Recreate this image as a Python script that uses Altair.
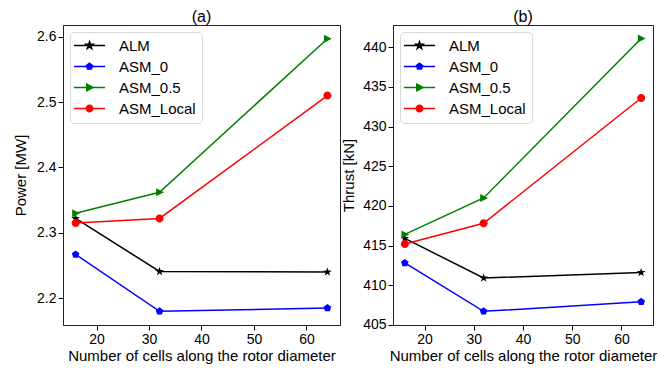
import math
import altair as alt
import pandas as pd

cells = [16, 32, 64]
series = ["ALM", "ASM_0", "ASM_0.5", "ASM_Local"]
colors = ["#000000", "#0000ff", "#008000", "#ff0000"]

power_alm = [2.322, 2.241, 2.240]
power_asm0 = [2.267, 2.180, 2.185]
power_asm05 = [2.330, 2.362, 2.597]
power_local = [2.315, 2.322, 2.510]

thrust_alm = [415.9, 410.9, 411.6]
thrust_asm0 = [412.8, 406.7, 407.9]
thrust_asm05 = [416.4, 421.0, 441.1]
thrust_local = [415.2, 417.8, 433.6]

power_ticks = [2.2, 2.3, 2.4, 2.5, 2.6]
thrust_ticks = [405, 410, 415, 420, 425, 430, 435, 440]
x_ticks = [20, 30, 40, 50, 60]

FONT = "Liberation Sans"


def poly(pts):
    return "M" + "L".join(f"{x:.3f},{y:.3f}" for x, y in pts) + "Z"


star = poly([((1.15 if i % 2 == 0 else 0.45) * math.cos(-math.pi / 2 + i * math.pi / 5),
              (1.15 if i % 2 == 0 else 0.45) * math.sin(-math.pi / 2 + i * math.pi / 5))
             for i in range(10)])
pent = poly([(math.cos(-math.pi / 2 + i * 2 * math.pi / 5),
              math.sin(-math.pi / 2 + i * 2 * math.pi / 5)) for i in range(5)])
tri = poly([(-0.85, -1.0), (1.1, 0.0), (-0.85, 1.0)])
circ = "M1,0A1,1 0 1,1 -1,0A1,1 0 1,1 1,0Z"
marker_paths = [star, pent, tri, circ]
legend_paths = ["M-4.8,0L4.8,0" + p for p in marker_paths]


def long_df(vals):
    rows = []
    for s, v in zip(series, vals):
        for c, y in zip(cells, v):
            rows.append({"cells": c, "series": s, "value": y})
    return pd.DataFrame(rows)


def panel(df, ydomain, yticks, yfmt, ytitle, title, width, ytitle_pad):
    x = alt.X("cells:Q", scale=alt.Scale(domain=[13.6, 66.4], nice=False, zero=False),
              axis=alt.Axis(values=x_ticks, title="Number of cells along the rotor diameter"))
    y = alt.Y("value:Q", scale=alt.Scale(domain=ydomain, nice=False, zero=False),
              axis=alt.Axis(values=yticks, format=yfmt, title=ytitle, titlePadding=ytitle_pad))
    base = alt.Chart(df).encode(x=x, y=y)
    cscale = alt.Scale(domain=series, range=colors)
    lines = base.mark_line(strokeWidth=1.5).encode(
        color=alt.Color("series:N", scale=cscale, legend=None),
        order=alt.Order("cells:Q"),
    )
    points = base.mark_point(filled=True, opacity=1, size=64).encode(
        color=alt.Color("series:N", scale=cscale, legend=None),
        shape=alt.Shape("series:N", scale=alt.Scale(domain=series, range=marker_paths), legend=None),
    )
    leg = alt.Legend(
        title=None, orient="top-left", offset=7, labelFont=FONT, labelFontSize=15,
        labelColor="black", symbolSize=42, symbolStrokeWidth=1.5, symbolOpacity=1,
        symbolOffset=6, labelOffset=22, rowPadding=5, padding=6,
        fillColor="white", strokeColor="#d9d9d9", cornerRadius=4,
    )
    dummy = base.mark_point(opacity=0, size=1).encode(
        fill=alt.Fill("series:N", scale=cscale, legend=leg),
        stroke=alt.Stroke("series:N", scale=cscale, legend=leg),
        shape=alt.Shape("series:N", scale=alt.Scale(domain=series, range=legend_paths), legend=leg),
    )
    return alt.layer(lines, points, dummy).resolve_scale(
        shape="independent", fill="independent", stroke="independent"
    ).properties(
        width=width, height=300,
        title=alt.TitleParams(title, font=FONT, fontSize=16, fontWeight="normal", color="black", offset=0),
    )


p1 = panel(long_df([power_alm, power_asm0, power_asm05, power_local]),
           [2.159, 2.618], power_ticks, ".1f", "Power [MW]", "(a)", 277, 8)
p2 = panel(long_df([thrust_alm, thrust_asm0, thrust_asm05, thrust_local]),
           [404.98, 442.8], thrust_ticks, "d", "Thrust [kN]", "(b)", 260, 6)

chart = alt.hconcat(p1, p2, spacing=0).resolve_scale(
    color="independent", fill="independent", stroke="independent", shape="independent"
).properties(
    padding={"left": 5, "top": 0, "right": 0, "bottom": 0}
).configure_view(stroke="#222222", strokeWidth=1).configure_axis(
    grid=False, labelFont=FONT, labelFontSize=14, labelColor="black",
    titleFont=FONT, titleFontSize=15, titleFontWeight="normal", titleColor="black",
    tickColor="black", tickSize=5, tickWidth=1, domainColor="#222222", domainWidth=1,
    labelPadding=2,
).configure_axisX(titlePadding=2)

chart.save("out.html", embed_options={"renderer": "svg", "actions": False})
